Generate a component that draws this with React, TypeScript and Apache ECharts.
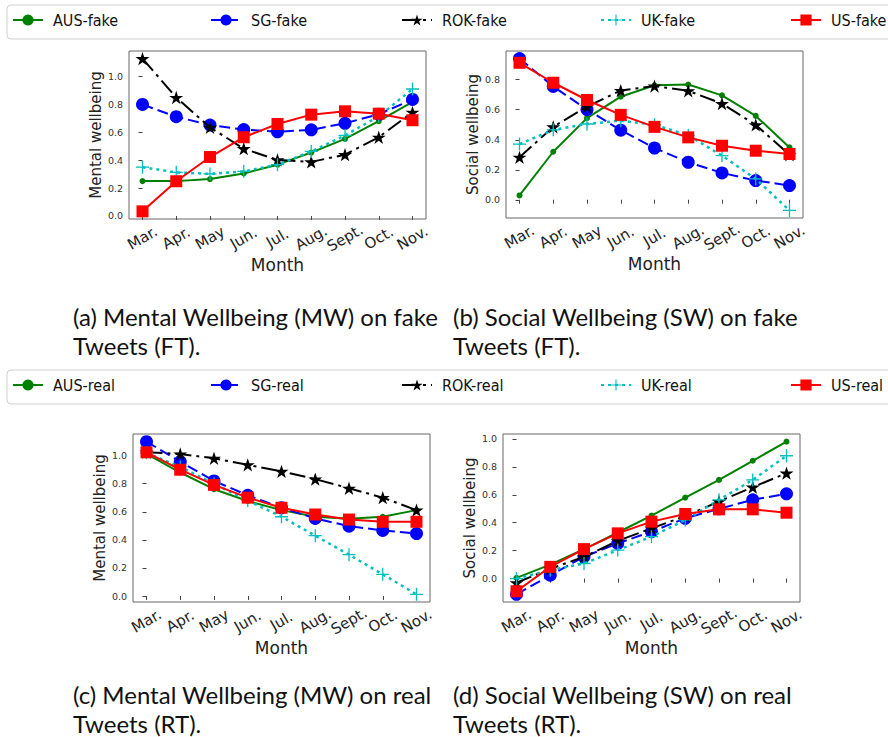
import React, { useEffect, useRef } from "react";
import * as echarts from "echarts";

// ---------- data ----------
const months = ["Mar.", "Apr.", "May", "Jun.", "Jul.", "Aug.", "Sept.", "Oct.", "Nov."];
const countries = ["AUS", "SG", "ROK", "UK", "US"];

// (a) Mental wellbeing, fake tweets
const mwFakeAUS = [0.25, 0.25, 0.265, 0.305, 0.368, 0.455, 0.553, 0.68, 0.818];
const mwFakeSG = [0.8, 0.712, 0.652, 0.62, 0.604, 0.618, 0.665, 0.73, 0.836];
const mwFakeROK = [1.129, 0.85, 0.636, 0.483, 0.402, 0.388, 0.44, 0.565, 0.744];
const mwFakeUK = [0.35, 0.313, 0.302, 0.32, 0.368, 0.463, 0.578, 0.715, 0.911];
const mwFakeUS = [0.033, 0.249, 0.423, 0.565, 0.66, 0.727, 0.751, 0.734, 0.687];

// (b) Social wellbeing, fake tweets
const swFakeAUS = [0.029, 0.32, 0.544, 0.687, 0.763, 0.768, 0.696, 0.559, 0.349];
const swFakeSG = [0.941, 0.755, 0.601, 0.464, 0.345, 0.25, 0.179, 0.128, 0.095];
const swFakeROK = [0.283, 0.486, 0.621, 0.728, 0.758, 0.726, 0.641, 0.499, 0.3];
const swFakeUK = [0.371, 0.466, 0.505, 0.527, 0.5, 0.43, 0.294, 0.139, -0.071];
const swFakeUS = [0.913, 0.78, 0.665, 0.566, 0.486, 0.416, 0.36, 0.327, 0.305];

// (c) Mental wellbeing, real tweets
const mwRealAUS = [1.012, 0.88, 0.761, 0.677, 0.612, 0.565, 0.55, 0.565, 0.612];
const mwRealSG = [1.1, 0.957, 0.82, 0.718, 0.629, 0.553, 0.498, 0.467, 0.445];
const mwRealROK = [1.025, 1.012, 0.981, 0.935, 0.888, 0.833, 0.768, 0.701, 0.612];
const mwRealUK = [1.02, 0.92, 0.8, 0.68, 0.565, 0.43, 0.295, 0.155, 0.012];
const mwRealUS = [1.024, 0.9, 0.792, 0.701, 0.629, 0.581, 0.545, 0.529, 0.529];

// (d) Social wellbeing, real tweets
const swRealAUS = [0.005, 0.1, 0.21, 0.33, 0.451, 0.58, 0.707, 0.844, 0.981];
const swRealSG = [-0.113, 0.024, 0.156, 0.252, 0.336, 0.432, 0.5, 0.564, 0.607];
const swRealROK = [-0.03, 0.07, 0.156, 0.27, 0.36, 0.448, 0.552, 0.655, 0.755];
const swRealUK = [0.0, 0.06, 0.108, 0.204, 0.3, 0.42, 0.564, 0.707, 0.88];
const swRealUS = [-0.091, 0.084, 0.211, 0.324, 0.408, 0.463, 0.496, 0.496, 0.472];

// tick labels
const yTicksA = [0, 0.2, 0.4, 0.6, 0.8, 1.0];
const yTicksB = [0, 0.2, 0.4, 0.6, 0.8];
const yTicksC = [0, 0.2, 0.4, 0.6, 0.8, 1.0];
const yTicksD = [0, 0.2, 0.4, 0.6, 0.8, 1.0];

const fakeNames = countries.map((c) => c + "-fake");
const realNames = countries.map((c) => c + "-real");

// ---------- styles / layout ----------
const STAR =
  "path://M50 0 L61.23 34.55 L97.55 34.55 L68.17 55.9 L79.39 90.45 L50 69.1 L20.61 90.45 L31.83 55.9 L2.45 34.55 L38.77 34.55 Z";
const PLUS = "path://M45 0 H55 V45 H100 V55 H55 V100 H45 V55 H0 V45 H45 Z";

const seriesStyles = [
  { color: "#008000", type: "solid", symbol: "circle", size: 6, width: 2 },
  { color: "#0000ff", type: [11, 5], symbol: "circle", size: 13, width: 2 },
  { color: "#000000", type: [16, 5, 3, 5], symbol: STAR, size: 14, width: 2 },
  { color: "#00bfbf", type: [3, 4], symbol: PLUS, size: 13, width: 2.5 },
  { color: "#ff0000", type: "solid", symbol: "rect", size: 12, width: 2 },
];

const FONT = "DejaVu Sans";
const legendItemX = [12, 210, 401, 600, 790];
const legendRows = [
  { names: fakeNames, boxTop: 5, itemTop: 12 },
  { names: realNames, boxTop: 370, itemTop: 377 },
];

const panels = [
  { grid: { left: 129, top: 51, width: 297, height: 168 }, yName: "Mental wellbeing", ticks: yTicksA, names: fakeNames, data: [mwFakeAUS, mwFakeSG, mwFakeROK, mwFakeUK, mwFakeUS] },
  { grid: { left: 506, top: 51, width: 297, height: 167 }, yName: "Social wellbeing", ticks: yTicksB, names: fakeNames, data: [swFakeAUS, swFakeSG, swFakeROK, swFakeUK, swFakeUS] },
  { grid: { left: 133, top: 434, width: 297, height: 168 }, yName: "Mental wellbeing", ticks: yTicksC, names: realNames, data: [mwRealAUS, mwRealSG, mwRealROK, mwRealUK, mwRealUS] },
  { grid: { left: 503, top: 434, width: 297, height: 168 }, yName: "Social wellbeing", ticks: yTicksD, names: realNames, data: [swRealAUS, swRealSG, swRealROK, swRealUK, swRealUS] },
];

const captions = [
  { x: 73, y: 316, text: "(a) Mental Wellbeing (MW) on fake" },
  { x: 73, y: 345, text: "Tweets (FT)." },
  { x: 453, y: 316, text: "(b) Social Wellbeing (SW) on fake" },
  { x: 453, y: 345, text: "Tweets (FT)." },
  { x: 73, y: 694, text: "(c) Mental Wellbeing (MW) on real" },
  { x: 73, y: 723, text: "Tweets (RT)." },
  { x: 453, y: 694, text: "(d) Social Wellbeing (SW) on real" },
  { x: 453, y: 723, text: "Tweets (RT)." },
];

function buildOption() {
  const xTickVals = months.map((_, i) => i);
  const grids: any[] = [];
  const xAxes: any[] = [];
  const yAxes: any[] = [];
  const series: any[] = [];

  panels.forEach((p, gi) => {
    grids.push({ ...p.grid, show: true, borderColor: "#666", borderWidth: 1, backgroundColor: "#fff" });
    const all = p.data.flat();
    const mn = Math.min(...all);
    const mx = Math.max(...all);
    const pad = (mx - mn) * 0.05;
    xAxes.push({
      type: "value",
      gridIndex: gi,
      min: -0.4,
      max: 8.4,
      name: "Month",
      nameLocation: "middle",
      nameGap: 37,
      nameTextStyle: { fontFamily: FONT, fontSize: 17, color: "#222" },
      axisLine: { show: false },
      splitLine: { show: false },
      axisTick: { show: true, inside: false, length: 4, lineStyle: { color: "#444" }, customValues: xTickVals },
      axisLabel: {
        customValues: xTickVals,
        formatter: (v: number) => months[Math.round(v)] ?? "",
        rotate: 30,
        align: "center",
        verticalAlign: "middle",
        margin: 19,
        fontFamily: FONT,
        fontSize: 15,
        color: "#222",
      },
    });
    yAxes.push({
      type: "value",
      gridIndex: gi,
      min: mn - pad,
      max: mx + pad,
      name: p.yName,
      nameLocation: "middle",
      nameGap: 26,
      nameTextStyle: { fontFamily: FONT, fontSize: 15, color: "#222" },
      axisLine: { show: false },
      splitLine: { show: false },
      axisTick: { show: true, inside: false, length: 4, lineStyle: { color: "#444" }, customValues: p.ticks },
      axisLabel: {
        customValues: p.ticks,
        formatter: (v: number) => v.toFixed(1),
        margin: 6,
        fontFamily: FONT,
        fontSize: 9.5,
        color: "#333",
      },
    });
    p.data.forEach((vals, si) => {
      const st = seriesStyles[si];
      series.push({
        type: "line",
        name: p.names[si],
        xAxisIndex: gi,
        yAxisIndex: gi,
        data: vals.map((v, i) => [i, v]),
        symbol: st.symbol,
        symbolSize: st.size,
        symbolKeepAspect: true,
        showSymbol: true,
        showAllSymbol: true,
        lineStyle: { color: st.color, width: st.width, type: st.type },
        itemStyle: { color: st.color, borderWidth: 0 },
        emphasis: { disabled: true },
        z: 2 + si,
      });
    });
  });

  const legends: any[] = [];
  legendRows.forEach((row) => {
    row.names.forEach((nm, i) => {
      legends.push({
        left: legendItemX[i],
        top: row.itemTop,
        orient: "horizontal",
        itemWidth: 30,
        itemHeight: 14,
        padding: 0,
        selectedMode: false,
        data: [nm],
        z: 10,
        textStyle: { fontFamily: "DejaVu Sans Condensed, DejaVu Sans", fontSize: 16, color: "#111", padding: [0, 0, 0, 5] },
      });
    });
  });

  const graphics: any[] = legendRows.map((row) => ({
    type: "rect",
    z: 1,
    shape: { x: 7, y: row.boxTop, width: 900, height: 34, r: 4 },
    style: { fill: "#fff", stroke: "#cfcfcf", lineWidth: 1 },
  }));
  captions.forEach((c) => {
    graphics.push({
      type: "text",
      x: c.x,
      y: c.y,
      style: { text: c.text, font: "24px Lato", fill: "#111", align: "left", verticalAlign: "middle" },
    });
  });

  return {
    animation: false,
    backgroundColor: "#fff",
    legend: legends,
    grid: grids,
    xAxis: xAxes,
    yAxis: yAxes,
    series,
    graphic: graphics,
  };
}

export default function App() {
  const ref = useRef<HTMLDivElement>(null);
  useEffect(() => {
    if (!ref.current) return;
    const chart = echarts.init(ref.current, undefined, { renderer: "svg" });
    chart.setOption(buildOption() as any);
    return () => chart.dispose();
  }, []);
  return <div ref={ref} style={{ position: "absolute", left: 0, top: 0, width: 888, height: 737 }} />;
}
